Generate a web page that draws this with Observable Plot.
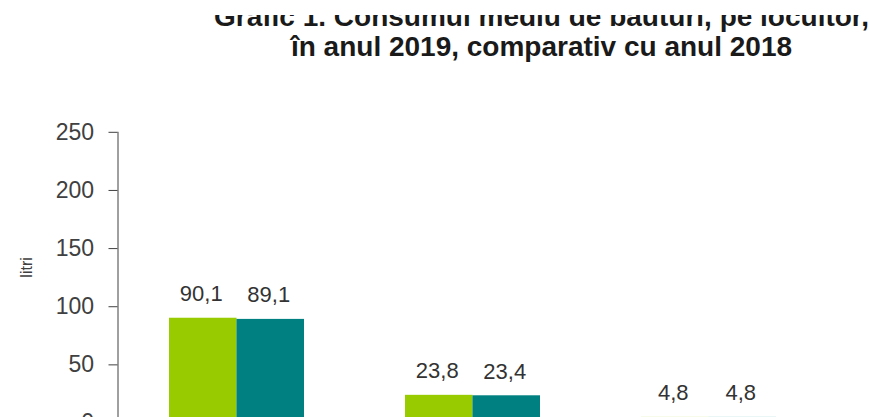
<!DOCTYPE html>
<html>
<head>
<meta charset="utf-8">
<script src="https://cdn.jsdelivr.net/npm/d3@7"></script>
<script src="https://cdn.jsdelivr.net/npm/@observablehq/plot@0.6"></script>
<style>
html, body { margin: 0; padding: 0; background: #fff; width: 869px; height: 417px; overflow: hidden; }
#chart { position: absolute; left: 0; top: 0; }
#title { position: absolute; left: 0; top: 15px; width: 1083px; height: 50px; overflow: hidden; }
#title div { margin-top: -13px; text-align: center; font: bold 28px "Liberation Sans", Arial, sans-serif; line-height: 30px; color: #1a1a1a; letter-spacing: 0px; }
</style>
</head>
<body>
<div id="chart"></div>
<div id="title"><div>Grafic 1. Consumul mediu de băuturi, pe locuitor,<br>în anul 2019, comparativ cu anul 2018</div></div>
<script>
const categories = ["Bere", "Vin și produse din vin", "Băuturi alcoolice distilate"];
const years = ["2018", "2019"];
const values2018 = [90.1, 23.8, 4.8];
const values2019 = [89.1, 23.4, 4.8];
const yTicks = [0, 50, 100, 150, 200, 250];
const colors = ["#99CC00", "#008080"];

const rows = categories.flatMap((c, i) => [
  {cat: c, year: years[0], v: values2018[i]},
  {cat: c, year: years[1], v: values2019[i]}
]);
const fmt = d => d3.format(".1f")(d).replace(".", ",");

const W = 869, ML = 117.5, MR = 41.5, PAD = 0.43;
const step = (W - ML - MR) / categories.length;
const bw = step * (1 - PAD);
const half = bw / 2;
const quarter = bw / 4;

const A = rows.filter(d => d.year === years[0]);
const B = rows.filter(d => d.year === years[1]);

const chart = Plot.plot({
  width: W,
  height: 480,
  marginLeft: ML,
  marginRight: MR,
  marginTop: 131.8,
  marginBottom: 57.5,
  style: {fontFamily: '"Liberation Sans", Arial, sans-serif', color: "#404040", background: "transparent"},
  x: {domain: categories, paddingInner: PAD, paddingOuter: PAD / 2, label: null},
  y: {domain: [0, 250], label: null},
  marks: [
    Plot.barY(A, {x: "cat", y: "v", fill: colors[0], insetRight: half}),
    Plot.barY(B, {x: "cat", y: "v", fill: colors[1], insetLeft: half}),
    Plot.text(A, {x: "cat", y: "v", text: d => fmt(d.v), dx: -quarter - 2, dy: -17, lineAnchor: "bottom", fontSize: 22, fill: "#333"}),
    Plot.text(B, {x: "cat", y: "v", text: d => fmt(d.v), dx: quarter - 2, dy: -17, lineAnchor: "bottom", fontSize: 22, fill: "#333"}),
    Plot.axisY({ticks: yTicks, tickSize: 9, tickPadding: 15, fontSize: 23, label: null, stroke: "#404040"}),
    Plot.axisX({tickSize: 0, label: null, fontSize: 18}),
    Plot.frame({anchor: "left", stroke: "#404040"}),
    Plot.text(["litri"], {frameAnchor: "left", rotate: -90, dx: -91, fontSize: 16, fill: "#404040"})
  ]
});
document.getElementById("chart").appendChild(chart);
</script>
</body>
</html>
